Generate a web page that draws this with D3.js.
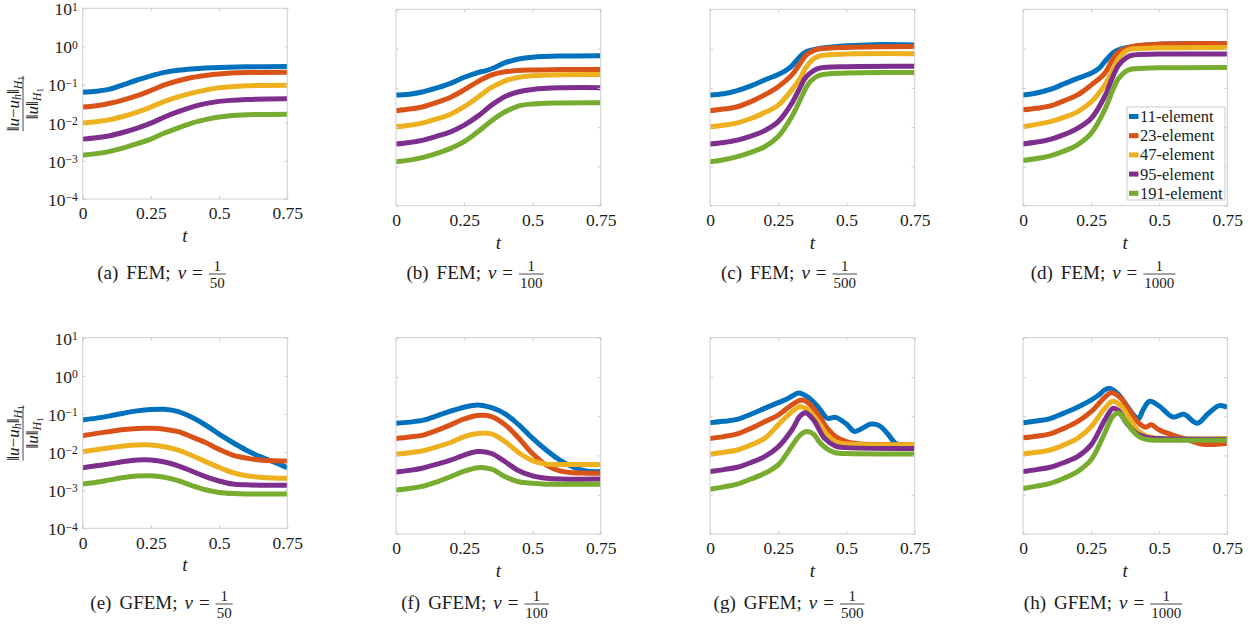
<!DOCTYPE html>
<html>
<head>
<meta charset="utf-8">
<script src="https://cdn.jsdelivr.net/npm/d3@7"></script>
<style>
  body { margin: 0; background: #fff; }
  svg { display: block; }
  text { font-family: "Liberation Serif", "DejaVu Serif", serif; fill: #1a1a1a; }
</style>
</head>
<body>
<script>
// series labels and colours (MATLAB default order)
const seriesNames = ["11-element", "23-element", "47-element", "95-element", "191-element"];
const colors = ["#0072BD", "#D95319", "#EDB120", "#7E2F8E", "#77AC30"];

const tTicks = [0, 0.25, 0.5, 0.75];
const tTickLabels = ["0", "0.25", "0.5", "0.75"];
const yExps = [-4, -3, -2, -1, 0, 1];

const letters = ["a", "b", "c", "d", "e", "f", "g", "h"];
const methods = ["FEM", "FEM", "FEM", "FEM", "GFEM", "GFEM", "GFEM", "GFEM"];
const nuDen = [50, 100, 500, 1000, 50, 100, 500, 1000];

// values: [t, log10(relative H1 error)]
const femNu50 = [
  [[0,-1.20],[0.05,-1.175],[0.1,-1.12],[0.15,-1.00],[0.2,-0.88],[0.25,-0.77],[0.3,-0.68],[0.35,-0.625],[0.4,-0.59],[0.45,-0.565],[0.5,-0.55],[0.6,-0.535],[0.75,-0.525]],
  [[0,-1.59],[0.05,-1.555],[0.1,-1.49],[0.15,-1.40],[0.2,-1.29],[0.25,-1.155],[0.3,-1.01],[0.35,-0.90],[0.4,-0.815],[0.45,-0.76],[0.5,-0.72],[0.6,-0.685],[0.75,-0.675]],
  [[0,-2.01],[0.05,-1.975],[0.1,-1.92],[0.15,-1.83],[0.2,-1.72],[0.25,-1.59],[0.3,-1.44],[0.35,-1.32],[0.4,-1.225],[0.45,-1.145],[0.5,-1.085],[0.6,-1.03],[0.75,-1.015]],
  [[0,-2.43],[0.05,-2.395],[0.1,-2.34],[0.15,-2.25],[0.2,-2.14],[0.25,-2.01],[0.3,-1.85],[0.35,-1.71],[0.4,-1.59],[0.45,-1.50],[0.5,-1.44],[0.6,-1.39],[0.75,-1.37]],
  [[0,-2.85],[0.05,-2.81],[0.1,-2.75],[0.15,-2.66],[0.2,-2.55],[0.25,-2.43],[0.3,-2.27],[0.35,-2.135],[0.4,-2.01],[0.45,-1.92],[0.5,-1.85],[0.55,-1.81],[0.65,-1.785],[0.75,-1.775]]
];
const femNu100 = [
  [[0,-1.18],[0.05,-1.16],[0.1,-1.10],[0.15,-1.00],[0.2,-0.885],[0.25,-0.73],[0.3,-0.61],[0.33,-0.56],[0.355,-0.50],[0.4,-0.36],[0.45,-0.265],[0.5,-0.22],[0.6,-0.19],[0.75,-0.18]],
  [[0,-1.58],[0.05,-1.54],[0.1,-1.48],[0.15,-1.37],[0.2,-1.24],[0.25,-1.05],[0.3,-0.84],[0.35,-0.67],[0.4,-0.59],[0.5,-0.545],[0.6,-0.535],[0.75,-0.53]],
  [[0,-1.99],[0.05,-1.95],[0.1,-1.89],[0.15,-1.79],[0.2,-1.67],[0.25,-1.48],[0.3,-1.24],[0.35,-0.99],[0.4,-0.82],[0.45,-0.73],[0.5,-0.69],[0.6,-0.665],[0.75,-0.66]],
  [[0,-2.43],[0.05,-2.39],[0.1,-2.33],[0.15,-2.23],[0.2,-2.12],[0.25,-1.95],[0.3,-1.72],[0.35,-1.44],[0.4,-1.22],[0.45,-1.10],[0.5,-1.04],[0.6,-1.00],[0.75,-0.995]],
  [[0,-2.88],[0.05,-2.84],[0.1,-2.77],[0.15,-2.67],[0.2,-2.54],[0.25,-2.37],[0.3,-2.12],[0.35,-1.835],[0.4,-1.61],[0.45,-1.46],[0.5,-1.41],[0.6,-1.385],[0.75,-1.38]]
];
const femNu500 = [
  [[0,-1.18],[0.05,-1.15],[0.1,-1.07],[0.15,-0.95],[0.2,-0.80],[0.25,-0.66],[0.28,-0.55],[0.3,-0.44],[0.33,-0.20],[0.35,-0.09],[0.4,0.0],[0.5,0.07],[0.6,0.10],[0.75,0.09]],
  [[0,-1.58],[0.05,-1.54],[0.1,-1.48],[0.15,-1.35],[0.2,-1.18],[0.25,-0.97],[0.3,-0.67],[0.33,-0.38],[0.35,-0.18],[0.38,-0.05],[0.4,-0.01],[0.5,0.03],[0.75,0.05]],
  [[0,-1.99],[0.05,-1.95],[0.1,-1.89],[0.15,-1.78],[0.2,-1.63],[0.25,-1.44],[0.3,-1.05],[0.33,-0.76],[0.35,-0.50],[0.38,-0.26],[0.4,-0.19],[0.5,-0.14],[0.75,-0.13]],
  [[0,-2.43],[0.05,-2.39],[0.1,-2.33],[0.15,-2.23],[0.2,-2.09],[0.25,-1.86],[0.3,-1.39],[0.33,-0.99],[0.35,-0.74],[0.38,-0.56],[0.4,-0.50],[0.5,-0.46],[0.75,-0.45]],
  [[0,-2.88],[0.05,-2.83],[0.1,-2.75],[0.15,-2.64],[0.2,-2.50],[0.25,-2.24],[0.3,-1.73],[0.33,-1.31],[0.35,-1.02],[0.37,-0.82],[0.4,-0.68],[0.5,-0.62],[0.75,-0.61]]
];
const femNu1000 = [
  [[0,-1.18],[0.05,-1.13],[0.1,-1.04],[0.15,-0.90],[0.2,-0.76],[0.25,-0.63],[0.28,-0.50],[0.3,-0.33],[0.33,-0.11],[0.35,-0.03],[0.4,0.05],[0.5,0.11],[0.75,0.125]],
  [[0,-1.56],[0.05,-1.52],[0.1,-1.46],[0.15,-1.33],[0.2,-1.18],[0.25,-0.93],[0.3,-0.63],[0.33,-0.26],[0.35,-0.09],[0.4,0.05],[0.5,0.11],[0.75,0.125]],
  [[0,-1.99],[0.05,-1.93],[0.1,-1.86],[0.15,-1.75],[0.2,-1.61],[0.25,-1.36],[0.3,-0.93],[0.33,-0.55],[0.35,-0.26],[0.38,-0.05],[0.4,-0.01],[0.5,0.02],[0.75,0.03]],
  [[0,-2.43],[0.05,-2.38],[0.1,-2.31],[0.15,-2.19],[0.2,-2.03],[0.25,-1.78],[0.3,-1.22],[0.33,-0.71],[0.35,-0.43],[0.38,-0.23],[0.4,-0.17],[0.5,-0.14],[0.75,-0.14]],
  [[0,-2.85],[0.05,-2.80],[0.1,-2.73],[0.15,-2.61],[0.2,-2.45],[0.25,-2.16],[0.3,-1.56],[0.33,-1.05],[0.35,-0.77],[0.38,-0.57],[0.4,-0.52],[0.5,-0.49],[0.75,-0.48]]
];
const gfemNu50 = [
  [[0,-1.16],[0.05,-1.11],[0.1,-1.05],[0.15,-0.98],[0.2,-0.92],[0.25,-0.885],[0.3,-0.88],[0.35,-0.94],[0.4,-1.09],[0.45,-1.29],[0.5,-1.53],[0.55,-1.75],[0.6,-1.95],[0.65,-2.12],[0.7,-2.26],[0.75,-2.41]],
  [[0,-1.57],[0.05,-1.51],[0.1,-1.46],[0.15,-1.41],[0.2,-1.38],[0.25,-1.375],[0.3,-1.40],[0.35,-1.465],[0.4,-1.60],[0.45,-1.75],[0.5,-1.93],[0.55,-2.08],[0.6,-2.16],[0.65,-2.21],[0.7,-2.23],[0.75,-2.235]],
  [[0,-1.99],[0.05,-1.94],[0.1,-1.885],[0.15,-1.84],[0.2,-1.815],[0.25,-1.815],[0.3,-1.86],[0.35,-1.95],[0.4,-2.09],[0.45,-2.25],[0.5,-2.40],[0.55,-2.54],[0.6,-2.62],[0.65,-2.66],[0.7,-2.68],[0.75,-2.69]],
  [[0,-2.41],[0.05,-2.36],[0.1,-2.31],[0.15,-2.25],[0.2,-2.21],[0.25,-2.21],[0.3,-2.26],[0.35,-2.36],[0.4,-2.50],[0.45,-2.645],[0.5,-2.76],[0.55,-2.84],[0.6,-2.86],[0.65,-2.87],[0.75,-2.87]],
  [[0,-2.84],[0.05,-2.79],[0.1,-2.73],[0.15,-2.67],[0.2,-2.63],[0.25,-2.62],[0.3,-2.66],[0.35,-2.75],[0.4,-2.88],[0.45,-2.99],[0.5,-3.06],[0.55,-3.09],[0.6,-3.10],[0.75,-3.10]]
];
const gfemNu100 = [
  [[0,-1.18],[0.05,-1.15],[0.1,-1.10],[0.15,-0.99],[0.2,-0.87],[0.25,-0.77],[0.3,-0.715],[0.35,-0.78],[0.4,-0.94],[0.45,-1.22],[0.5,-1.56],[0.55,-1.86],[0.6,-2.115],[0.65,-2.30],[0.7,-2.40],[0.75,-2.41]],
  [[0,-1.57],[0.05,-1.53],[0.1,-1.48],[0.15,-1.36],[0.2,-1.22],[0.25,-1.07],[0.3,-0.98],[0.35,-1.01],[0.4,-1.22],[0.45,-1.56],[0.5,-1.95],[0.55,-2.24],[0.6,-2.39],[0.65,-2.44],[0.7,-2.45],[0.75,-2.455]],
  [[0,-1.97],[0.05,-1.93],[0.1,-1.88],[0.15,-1.78],[0.2,-1.67],[0.25,-1.52],[0.3,-1.44],[0.35,-1.45],[0.4,-1.65],[0.45,-1.93],[0.5,-2.13],[0.55,-2.22],[0.6,-2.23],[0.75,-2.23]],
  [[0,-2.42],[0.05,-2.38],[0.1,-2.32],[0.15,-2.22],[0.2,-2.12],[0.25,-1.99],[0.3,-1.90],[0.35,-1.95],[0.4,-2.16],[0.45,-2.39],[0.5,-2.52],[0.55,-2.58],[0.6,-2.60],[0.75,-2.60]],
  [[0,-2.88],[0.05,-2.84],[0.1,-2.78],[0.15,-2.67],[0.2,-2.54],[0.25,-2.40],[0.3,-2.31],[0.35,-2.35],[0.4,-2.54],[0.45,-2.67],[0.5,-2.71],[0.55,-2.73],[0.75,-2.73]]
];
const gfemNu500 = [
  [[0,-1.165],[0.05,-1.13],[0.1,-1.08],[0.15,-0.95],[0.2,-0.80],[0.25,-0.655],[0.28,-0.57],[0.3,-0.49],[0.324,-0.41],[0.36,-0.52],[0.4,-0.80],[0.43,-1.05],[0.46,-1.03],[0.5,-1.20],[0.53,-1.39],[0.56,-1.30],[0.59,-1.20],[0.62,-1.24],[0.65,-1.44],[0.68,-1.69],[0.7,-1.72],[0.75,-1.72]],
  [[0,-1.565],[0.05,-1.52],[0.1,-1.45],[0.15,-1.31],[0.2,-1.14],[0.25,-0.97],[0.3,-0.71],[0.336,-0.59],[0.36,-0.66],[0.4,-0.995],[0.43,-1.31],[0.46,-1.52],[0.5,-1.65],[0.55,-1.71],[0.75,-1.72]],
  [[0,-1.97],[0.05,-1.92],[0.1,-1.86],[0.15,-1.73],[0.2,-1.565],[0.25,-1.22],[0.3,-0.885],[0.33,-0.76],[0.36,-0.84],[0.4,-1.18],[0.43,-1.48],[0.46,-1.65],[0.5,-1.71],[0.75,-1.72]],
  [[0,-2.41],[0.05,-2.36],[0.1,-2.30],[0.15,-2.18],[0.2,-2.03],[0.25,-1.78],[0.3,-1.35],[0.33,-0.995],[0.35,-0.91],[0.38,-1.10],[0.42,-1.565],[0.46,-1.76],[0.5,-1.80],[0.75,-1.82]],
  [[0,-2.86],[0.05,-2.80],[0.1,-2.73],[0.15,-2.60],[0.2,-2.455],[0.25,-2.24],[0.3,-1.76],[0.33,-1.48],[0.354,-1.39],[0.38,-1.46],[0.4,-1.65],[0.43,-1.84],[0.46,-1.93],[0.5,-1.95],[0.75,-1.96]]
];
const gfemNu1000 = [
  [[0,-1.165],[0.05,-1.12],[0.1,-1.06],[0.15,-0.92],[0.2,-0.77],[0.25,-0.59],[0.28,-0.45],[0.3,-0.33],[0.32,-0.29],[0.35,-0.44],[0.38,-0.72],[0.41,-1.00],[0.425,-1.06],[0.44,-0.85],[0.465,-0.62],[0.5,-0.74],[0.55,-1.02],[0.59,-0.95],[0.64,-1.18],[0.68,-0.93],[0.72,-0.73],[0.75,-0.77]],
  [[0,-1.55],[0.05,-1.51],[0.1,-1.45],[0.15,-1.31],[0.2,-1.14],[0.25,-0.885],[0.3,-0.52],[0.325,-0.40],[0.36,-0.545],[0.39,-0.84],[0.42,-1.14],[0.45,-1.28],[0.47,-1.22],[0.5,-1.35],[0.55,-1.48],[0.6,-1.59],[0.65,-1.70],[0.7,-1.72],[0.75,-1.69]],
  [[0,-1.96],[0.05,-1.92],[0.1,-1.86],[0.15,-1.73],[0.2,-1.565],[0.25,-1.27],[0.3,-0.80],[0.33,-0.62],[0.36,-0.74],[0.39,-1.05],[0.42,-1.35],[0.45,-1.50],[0.5,-1.565],[0.75,-1.57]],
  [[0,-2.41],[0.05,-2.36],[0.1,-2.30],[0.15,-2.18],[0.2,-2.03],[0.25,-1.73],[0.3,-1.10],[0.33,-0.80],[0.35,-0.85],[0.38,-1.18],[0.42,-1.45],[0.46,-1.545],[0.5,-1.57],[0.75,-1.59]],
  [[0,-2.84],[0.05,-2.78],[0.1,-2.71],[0.15,-2.58],[0.2,-2.41],[0.25,-2.11],[0.3,-1.43],[0.33,-1.00],[0.35,-0.92],[0.37,-1.06],[0.4,-1.35],[0.43,-1.54],[0.46,-1.60],[0.5,-1.61],[0.75,-1.61]]
];

const panelData = [femNu50, femNu100, femNu500, femNu1000, gfemNu50, gfemNu100, gfemNu500, gfemNu1000];

// plot frames [left, top, right, bottom] and caption centres
const frames = [
  [82.7, 8.3, 287.3, 199], [396, 9.3, 600.7, 205.7], [710, 9.3, 914.7, 205.7], [1023, 9.3, 1227.3, 205.7],
  [82.7, 337.7, 287.3, 528.3], [396, 337.7, 600.7, 534], [710, 337.7, 914.7, 534], [1023, 337.7, 1227.3, 534]
];
const capCenters = [161.5, 475, 789, 1103, 161.5, 475, 789, 1103];
const capBase = [279, 279, 279, 279, 609, 609, 609, 609];

const boxColor = "#cfcfcf";
const serif = "Liberation Serif, DejaVu Serif, serif";

const svg = d3.select("body").append("svg")
  .attr("width", 1258)
  .attr("height", 628)
  .attr("font-family", serif);

panelData.forEach((series, i) => {
  const [l, t, r, b] = frames[i];
  const x = d3.scaleLinear().domain([0, 0.75]).range([l, r]);
  const y = d3.scaleLog().domain([1e-4, 1e1]).range([b, t]);
  const g = svg.append("g");

  g.append("clipPath").attr("id", "clip" + i)
    .append("rect").attr("x", l).attr("y", t).attr("width", r - l).attr("height", b - t);

  const line = d3.line()
    .x(d => x(d[0]))
    .y(d => y(Math.pow(10, d[1])))
    .curve(d3.curveCatmullRom.alpha(0.5));

  g.selectAll("path.series")
    .data(series)
    .enter().append("path")
    .attr("class", "series")
    .attr("clip-path", `url(#clip${i})`)
    .attr("d", line)
    .attr("fill", "none")
    .attr("stroke", (d, k) => colors[k])
    .attr("stroke-width", 5);

  // axes: ticks inside on all four sides
  const yTickVals = yExps.map(e => Math.pow(10, e));
  const xb = g.append("g").attr("transform", `translate(0,${b})`)
    .call(d3.axisBottom(x).tickValues(tTicks).tickSizeInner(-3).tickSizeOuter(0).tickPadding(8)
      .tickFormat((d, k) => tTickLabels[k]));
  const xt = g.append("g").attr("transform", `translate(0,${t})`)
    .call(d3.axisTop(x).tickValues(tTicks).tickSizeInner(-3).tickSizeOuter(0).tickFormat(""));
  const yl = g.append("g").attr("transform", `translate(${l},0)`)
    .call(d3.axisLeft(y).tickValues(yTickVals).tickSizeInner(-3).tickSizeOuter(0).tickPadding(5)
      .tickFormat(""));
  const yr = g.append("g").attr("transform", `translate(${r},0)`)
    .call(d3.axisRight(y).tickValues(yTickVals).tickSizeInner(-3).tickSizeOuter(0).tickFormat(""));

  [xb, xt, yl, yr].forEach(a => {
    a.attr("font-family", serif);
    a.select(".domain").remove();
    a.selectAll("line").attr("stroke", boxColor);
  });
  xb.selectAll("text").attr("font-size", 17.5).attr("fill", "#1a1a1a");

  if (i === 0 || i === 4) {
    yl.selectAll("text")
      .attr("font-size", 17.5)
      .attr("fill", "#1a1a1a")
      .attr("dy", "0.36em")
      .each(function(d, k) {
        const e = yExps[k];
        const el = d3.select(this);
        el.text(null);
        el.append("tspan").text("10");
        el.append("tspan").attr("dy", -4.5).attr("font-size", 11.5).text(e < 0 ? "\u2212" + (-e) : String(e));
      });

    // y label: ||u - u_h||_{H1} / ||u||_{H1}, rotated
    const cy = (t + b) / 2;
    const yg = g.append("g").attr("transform", `translate(23,${cy}) rotate(-90)`);
    const num = yg.append("text").attr("y", -4).attr("text-anchor", "middle").attr("font-size", 17);
    num.append("tspan").text("\u2016");
    num.append("tspan").attr("font-style", "italic").text("u");
    num.append("tspan").text("\u2212");
    num.append("tspan").attr("font-style", "italic").text("u");
    num.append("tspan").attr("font-style", "italic").attr("font-size", 12).attr("dy", 2).text("h");
    num.append("tspan").attr("dy", -2).text("\u2016");
    num.append("tspan").attr("font-style", "italic").attr("font-size", 12).attr("dy", 3).text("H");
    num.append("tspan").attr("font-size", 9).attr("dy", 1.5).text("1");
    const den = yg.append("text").attr("y", 15).attr("text-anchor", "middle").attr("font-size", 17);
    den.append("tspan").text("\u2016");
    den.append("tspan").attr("font-style", "italic").text("u");
    den.append("tspan").text("\u2016");
    den.append("tspan").attr("font-style", "italic").attr("font-size", 12).attr("dy", 3).text("H");
    den.append("tspan").attr("font-size", 9).attr("dy", 1.5).text("1");
    const nw = num.node().getComputedTextLength();
    yg.append("line").attr("x1", -nw / 2).attr("x2", nw / 2).attr("y1", 0).attr("y2", 0)
      .attr("stroke", "#1a1a1a").attr("stroke-width", 0.8);
  }

  // frame
  g.append("rect")
    .attr("x", l).attr("y", t).attr("width", r - l).attr("height", b - t)
    .attr("fill", "none").attr("stroke", boxColor).attr("stroke-width", 1);

  // x label
  g.append("text")
    .attr("x", (l + r) / 2).attr("y", b + 43)
    .attr("text-anchor", "middle").attr("font-size", 19).attr("font-style", "italic")
    .text("t");

  // legend in panel (d)
  if (i === 3) {
    const lg = g.append("g");
    lg.append("rect").attr("x", 1127).attr("y", 107).attr("width", 98).attr("height", 93)
      .attr("fill", "#fff").attr("stroke", "#bdbdbd").attr("stroke-width", 0.8);
    seriesNames.forEach((name, k) => {
      const ry = 116.5 + k * 19.2;
      lg.append("rect").attr("x", 1129).attr("y", ry - 2.5).attr("width", 9.5).attr("height", 5)
        .attr("fill", colors[k]);
      lg.append("text").attr("x", 1140).attr("y", ry + 5.5).attr("font-size", 16.5).text(name);
    });
  }

  // caption
  const base = capBase[i];
  const cg = svg.append("g");
  let cx = 0;
  const put = (str, gap, italic) => {
    const tx = cg.append("text").attr("x", cx).attr("y", base).attr("font-size", 19).text(str);
    if (italic) tx.attr("font-style", "italic");
    cx += tx.node().getComputedTextLength() + gap;
  };
  put(`(${letters[i]})`, 8);
  put(`${methods[i]};`, 7);
  put("\u03bd", 6, true);
  put("=", 6);
  const n1 = cg.append("text").attr("y", base - 8).attr("font-size", 15).attr("text-anchor", "middle").text("1");
  const d1 = cg.append("text").attr("y", base + 9).attr("font-size", 15).attr("text-anchor", "middle").text(nuDen[i]);
  const fw = d1.node().getComputedTextLength() + 2;
  n1.attr("x", cx + fw / 2);
  d1.attr("x", cx + fw / 2);
  cg.append("line").attr("x1", cx).attr("x2", cx + fw).attr("y1", base - 5).attr("y2", base - 5)
    .attr("stroke", "#1a1a1a").attr("stroke-width", 0.8);
  cx += fw;
  cg.attr("transform", `translate(${capCenters[i] - cx / 2},0)`);
});
</script>
</body>
</html>
